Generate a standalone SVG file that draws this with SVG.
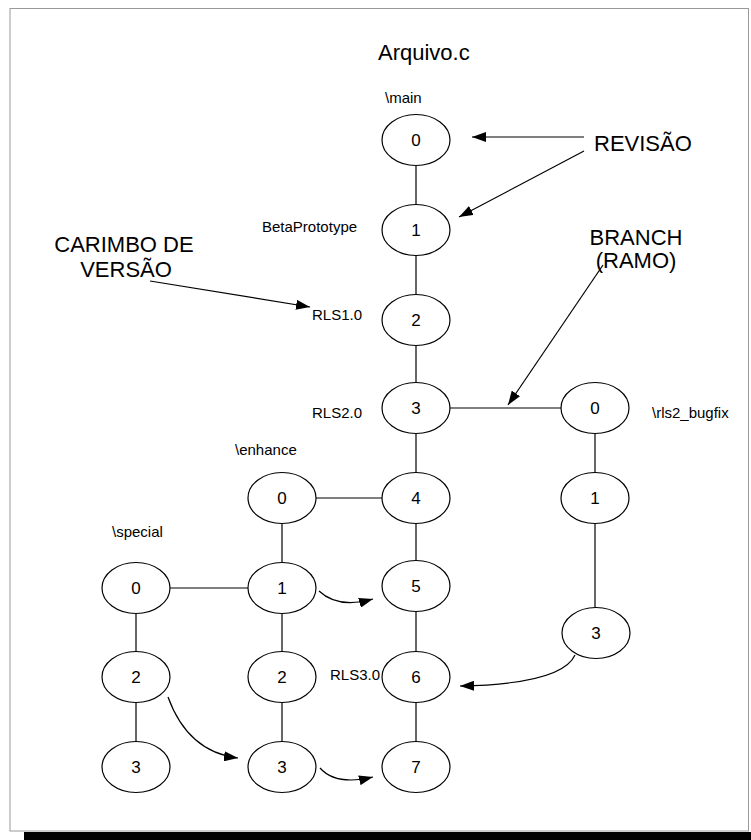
<svg xmlns="http://www.w3.org/2000/svg" width="751" height="840" viewBox="0 0 751 840">
<style>
.n ellipse{fill:#fff;stroke:#000;stroke-width:1.2}
.n text{font-family:"Liberation Sans",Arial,sans-serif;font-size:17px;text-anchor:middle;fill:#000}
.lbl{font-family:"Liberation Sans",Arial,sans-serif;font-size:15px;fill:#000}
.big{font-family:"Liberation Sans",Arial,sans-serif;font-size:22px;fill:#000}
#connectors line,#connectors path{stroke:#000;stroke-width:1.2;fill:none}
#connectors .a{marker-end:url(#ah)}
</style>
<defs>
<marker id="ah" markerUnits="userSpaceOnUse" viewBox="0 0 14 10" refX="14" refY="5" markerWidth="14" markerHeight="10" orient="auto">
<path d="M0,0 L14,5 L0,10 z" fill="#000"/>
</marker>
</defs>
<rect x="0" y="0" width="751" height="840" fill="#fff"/>
<rect x="10" y="8.5" width="738.5" height="822.5" fill="none" stroke="#999" stroke-width="1"/>
<rect x="24" y="832" width="727" height="8" fill="#000"/>

<text class="big" x="378" y="60">Arquivo.c</text>
<text class="lbl" x="385" y="103">\main</text>
<text class="lbl" x="262" y="232">BetaPrototype</text>
<text class="lbl" x="312" y="320">RLS1.0</text>
<text class="lbl" x="312" y="418">RLS2.0</text>
<text class="lbl" x="235" y="455">\enhance</text>
<text class="lbl" x="112" y="537">\special</text>
<text class="lbl" x="330" y="680">RLS3.0</text>
<text class="lbl" x="652" y="418">\rls2_bugfix</text>
<text class="big" x="594" y="151">REVISÃO</text>
<text class="big" x="124" y="252" text-anchor="middle">CARIMBO DE</text>
<text class="big" x="126" y="277" text-anchor="middle">VERSÃO</text>
<text class="big" x="636" y="245" text-anchor="middle">BRANCH</text>
<text class="big" x="636" y="268" text-anchor="middle">(RAMO)</text>

<g id="connectors">
<line x1="416" y1="166" x2="416" y2="205"/>
<line x1="416" y1="255" x2="416" y2="295"/>
<line x1="416" y1="345" x2="416" y2="383"/>
<line x1="416" y1="433" x2="416" y2="473"/>
<line x1="416" y1="523" x2="416" y2="561"/>
<line x1="416" y1="611" x2="416" y2="652"/>
<line x1="416" y1="702" x2="416" y2="742"/>
<line x1="450" y1="408" x2="561" y2="408"/>
<line x1="316" y1="498" x2="382" y2="498"/>
<line x1="170" y1="588" x2="248" y2="588"/>
<line x1="282" y1="523" x2="282" y2="563"/>
<line x1="282" y1="613" x2="282" y2="652"/>
<line x1="282" y1="702" x2="282" y2="742"/>
<line x1="136" y1="613" x2="136" y2="652"/>
<line x1="136" y1="702" x2="136" y2="742"/>
<line x1="595" y1="433" x2="595" y2="473"/>
<line x1="595" y1="523" x2="595" y2="608"/>
<path class="a" d="M319,591 Q338,609 373,599"/>
<path class="a" d="M575,655 Q562,684 460,686"/>
<path class="a" d="M168,697 Q188,752 238,758"/>
<path class="a" d="M320,768 Q336,786 373,777"/>
<line class="a" x1="584" y1="137" x2="472" y2="137"/>
<line class="a" x1="584" y1="151" x2="459" y2="217"/>
<line class="a" x1="150" y1="281" x2="310" y2="307"/>
<line class="a" x1="603" y1="265" x2="508" y2="405"/>
</g>

<g id="main0" class="n"><ellipse cx="416" cy="140" rx="34" ry="25.5"/><text x="416" y="146">0</text></g>
<g id="main1" class="n"><ellipse cx="416" cy="230" rx="34" ry="25.5"/><text x="416" y="236">1</text></g>
<g id="main2" class="n"><ellipse cx="416" cy="320" rx="34" ry="25.5"/><text x="416" y="326">2</text></g>
<g id="main3" class="n"><ellipse cx="416" cy="408" rx="34" ry="25.5"/><text x="416" y="414">3</text></g>
<g id="main4" class="n"><ellipse cx="416" cy="498" rx="34" ry="25.5"/><text x="416" y="504">4</text></g>
<g id="main5" class="n"><ellipse cx="416" cy="586" rx="34" ry="25.5"/><text x="416" y="592">5</text></g>
<g id="main6" class="n"><ellipse cx="416" cy="677" rx="34" ry="25.5"/><text x="416" y="683">6</text></g>
<g id="main7" class="n"><ellipse cx="416" cy="767" rx="34" ry="25.5"/><text x="416" y="773">7</text></g>
<g id="enh0" class="n"><ellipse cx="282" cy="498" rx="34" ry="25.5"/><text x="282" y="504">0</text></g>
<g id="enh1" class="n"><ellipse cx="282" cy="588" rx="34" ry="25.5"/><text x="282" y="594">1</text></g>
<g id="enh2" class="n"><ellipse cx="282" cy="677" rx="34" ry="25.5"/><text x="282" y="683">2</text></g>
<g id="enh3" class="n"><ellipse cx="282" cy="767" rx="34" ry="25.5"/><text x="282" y="773">3</text></g>
<g id="spe0" class="n"><ellipse cx="136" cy="588" rx="34" ry="25.5"/><text x="136" y="594">0</text></g>
<g id="spe2" class="n"><ellipse cx="136" cy="677" rx="34" ry="25.5"/><text x="136" y="683">2</text></g>
<g id="spe3" class="n"><ellipse cx="136" cy="767" rx="34" ry="25.5"/><text x="136" y="773">3</text></g>
<g id="rls0" class="n"><ellipse cx="595" cy="408" rx="34" ry="25.5"/><text x="595" y="414">0</text></g>
<g id="rls1" class="n"><ellipse cx="595" cy="498" rx="34" ry="25.5"/><text x="595" y="504">1</text></g>
<g id="rls3" class="n"><ellipse cx="596" cy="633" rx="34" ry="25.5"/><text x="596" y="639">3</text></g>
</svg>
